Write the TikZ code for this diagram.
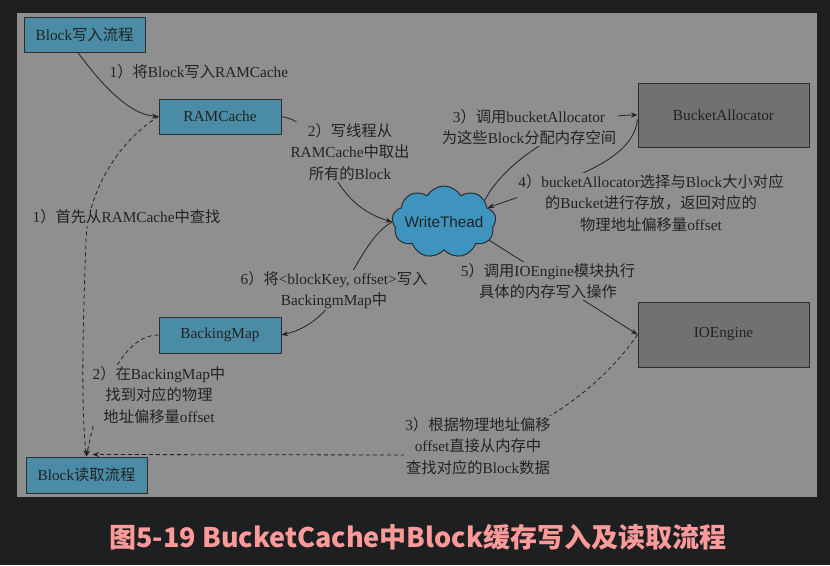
\documentclass[tikz,border=0pt]{standalone}
\usepackage{fontspec}
\setmainfont{Liberation Serif}
\newfontfamily\cjkf{Noto Sans CJK SC}
\newfontfamily\sansf{Liberation Sans}
\newcommand\cn[1]{{\cjkf #1}}
\newcommand\rp{\cn{）}}
\newcommand\lblfont{\fontsize{15.3}{21.5}\selectfont}
\usetikzlibrary{shapes.symbols,arrows.meta}
\definecolor{bgdark}{HTML}{1E1F21}
\definecolor{panel}{HTML}{8F8F8F}
\definecolor{ink}{HTML}{232323}
\definecolor{edge}{HTML}{2E2E2E}
\definecolor{boxblue}{HTML}{4A8BA6}
\definecolor{boxgray}{HTML}{717171}
\definecolor{cloudblue}{HTML}{3E94BE}
\definecolor{titlepink}{HTML}{FF9A9A}
\tikzset{
  bluebox/.style={draw=edge, fill=boxblue, line width=1pt, inner sep=0pt, text=ink, font=\lblfont},
  graybox/.style={draw=edge, fill=boxgray, line width=1pt, inner sep=0pt, text=ink, font=\lblfont},
  lbl/.style={fill=panel, inner sep=1.5pt, text=ink, align=center, font=\lblfont},
  conn/.style={draw=ink, line width=0.8pt, -{Stealth[length=6.5pt,width=5pt]}},
  dconn/.style={conn, dash pattern=on 4pt off 3pt},
}
\begin{document}
\begin{tikzpicture}[x=1pt,y=-1pt]
\useasboundingbox (0,0) rectangle (830,565);
\fill[bgdark] (0,0) rectangle (830,565);
\fill[panel] (17,13) rectangle (817,497);

% boxes
\node[bluebox, minimum width=121pt, minimum height=35pt] (bw) at (84.5,34.5) {Block\cn{写入流程}};
\node[bluebox, minimum width=122pt, minimum height=35pt] (ram) at (220,116.5) {RAMCache};
\node[graybox, minimum width=171pt, minimum height=64pt] (ba) at (723.5,115) {BucketAllocator};
\node[graybox, minimum width=171pt, minimum height=65pt] (io) at (723.5,334.5) {IOEngine};
\node[bluebox, minimum width=122pt, minimum height=36pt] (bm) at (220,335) {BackingMap};
\node[bluebox, minimum width=121pt, minimum height=36pt] (rd) at (86.5,475) {Block\cn{读取流程}};
\node[cloud, cloud puffs=9, cloud puff arc=120, aspect=1.45, minimum width=104pt, minimum height=72pt,
      inner sep=0pt, draw=edge, line width=1pt, fill=cloudblue, text=ink,
      font=\sansf\fontsize{15.3}{18}\selectfont] (wt) at (444,222) {\makebox[0pt]{WriteThead}};

% write flow
\draw[conn] (bw.250) .. controls +(22,30) and +(-30,-2) .. (ram.west);
\draw[conn] (ram.east) .. controls +(49,8) and +(-73,-22) .. (wt.west);
\draw[conn] (wt.28) .. controls +(20,-40) and +(-63,0) .. (ba.west);
\draw[conn] (ba.183) .. controls +(-5,45) and +(70,-25) .. (wt.18);
\draw[conn] (wt.338) -- (io.west);
\draw[conn] (wt.west) .. controls +(-38,21) and +(64,-15) .. (bm.east);

% read flow
\draw[dconn] (ram.west) .. controls (120,140) and (88,190) .. (86,240)
             .. controls (84,300) and (80,400) .. (rd.north);
\draw[dconn] (bm.west) .. controls +(-44,0) and +(7,-37) .. (rd.north);
\draw[dconn] (io.west) .. controls +(-33,50) and +(100,0) .. (420,455)
             -- ([xshift=6pt,yshift=2pt]rd.north);

% labels
\node[lbl, anchor=west] (l1) at (108,72) {1\rp\cn{将}Block\cn{写入}RAMCache};
\node[lbl] (l2) at (350,152) {2\rp\cn{写线程从}\\RAMCache\cn{中取出}\\\cn{所有的}Block};
\node[lbl] (l3) at (529,127) {3\rp\cn{调用}bucketAllocator\\\cn{为这些}Block\cn{分配内存空间}};
\node[lbl] (l4) at (651,203) {4\rp bucketAllocator\cn{选择与}Block\cn{大小对应}\\\cn{的}Bucket\cn{进行存放，返回对应的}\\\cn{物理地址偏移量}offset};
\node[lbl] (l5) at (548,281) {5\rp\cn{调用}IOEngine\cn{模块执行}\\\cn{具体的内存写入操作}};
\node[lbl] (l6) at (334,290) {6\rp\cn{将}<blockKey, offset>\cn{写入}\\BackingmMap\cn{中}};
\node[lbl, anchor=west] (l7) at (31,217) {1\rp\cn{首先从}RAMCache\cn{中查找}};
\node[lbl] (l8) at (159,395) {2\rp\cn{在}BackingMap\cn{中}\\\cn{找到对应的物理}\\\cn{地址偏移量}offset};
\node[lbl] (l9) at (478,446) {3\rp\cn{根据物理地址偏移}\\offset\cn{直接从内存中}\\\cn{查找对应的}Block\cn{数据}};

% title
\node[text=titlepink, font=\cjkf\bfseries\fontsize{27}{32}\selectfont] (title) at (418,537)
  {图5-19 BucketCache中Block缓存写入及读取流程};
\end{tikzpicture}
\end{document}
